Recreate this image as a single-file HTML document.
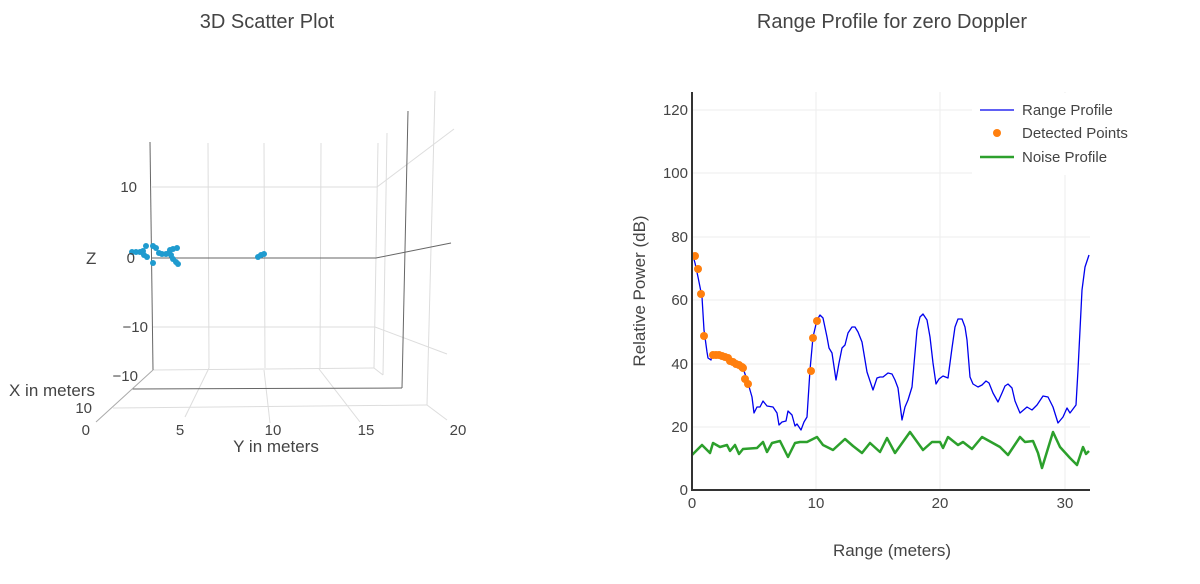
<!DOCTYPE html>
<html><head><meta charset="utf-8"><style>
body{margin:0;background:#fff;}
svg{display:block;font-family:"Liberation Sans",sans-serif;}
</style></head><body>
<svg width="1200" height="584" viewBox="0 0 1200 584">
<rect width="1200" height="584" fill="#fff"/>
<text x="267" y="28" font-size="20" fill="#444" text-anchor="middle">3D Scatter Plot</text>
<text x="892" y="28" font-size="20" fill="#444" text-anchor="middle">Range Profile for zero Doppler</text>

<!-- 3D scene -->
<g stroke="#ddd" stroke-width="1" fill="none">
<line x1="208" y1="143" x2="209" y2="368"/><line x1="264" y1="143" x2="265" y2="368"/>
<line x1="321" y1="143" x2="320" y2="368"/><line x1="378" y1="143" x2="374" y2="368"/>
<line x1="387" y1="133" x2="383" y2="375"/><line x1="435" y1="91" x2="427" y2="405"/>
<line x1="152" y1="187" x2="377" y2="187"/><line x1="377" y1="187" x2="454" y2="129"/>
<line x1="152" y1="327" x2="375" y2="327"/><line x1="375" y1="327" x2="447" y2="354"/>
<line x1="113" y1="408" x2="427" y2="405"/>
<line x1="209" y1="368" x2="185" y2="417"/><line x1="264" y1="370" x2="270" y2="423"/>
<line x1="319" y1="369" x2="360" y2="422"/><line x1="374" y1="368" x2="383" y2="375"/>
<line x1="427" y1="405" x2="447" y2="420"/><line x1="153" y1="370" x2="374" y2="368"/>
</g>
<g stroke="#666" stroke-width="1" fill="none">
<line x1="150" y1="142" x2="153" y2="370"/><line x1="408" y1="111" x2="402" y2="388"/>
<line x1="152" y1="258" x2="376" y2="258"/><line x1="376" y1="258" x2="451" y2="243"/>
<line x1="132" y1="389" x2="402" y2="388"/>
</g>
<line x1="153" y1="370" x2="96" y2="422" stroke="#aaa"/>
<g fill="#1f9bcf">
<circle cx="132" cy="252" r="3"/><circle cx="136" cy="252" r="3"/><circle cx="140" cy="252" r="3"/>
<circle cx="143" cy="251" r="3"/><circle cx="146" cy="246" r="3"/><circle cx="144" cy="255" r="3"/>
<circle cx="147" cy="257" r="3"/><circle cx="153" cy="246" r="3"/><circle cx="156" cy="248" r="3"/>
<circle cx="159" cy="253" r="3"/><circle cx="153" cy="263" r="3"/><circle cx="162" cy="254" r="3"/>
<circle cx="166" cy="254" r="3"/><circle cx="170" cy="250" r="3"/><circle cx="173" cy="249" r="3"/>
<circle cx="177" cy="248" r="3"/><circle cx="171" cy="255" r="3"/><circle cx="173" cy="259" r="3"/>
<circle cx="176" cy="262" r="3"/><circle cx="178" cy="264" r="3"/><circle cx="169" cy="253" r="3"/>
<circle cx="258" cy="257" r="3"/><circle cx="261" cy="255" r="3"/><circle cx="264" cy="254" r="3"/>
</g>
<g font-size="15" fill="#444">
<text x="137" y="192" text-anchor="end">10</text>
<text x="135" y="263" text-anchor="end">0</text>
<text x="148" y="332" text-anchor="end">−10</text>
<text x="138" y="381" text-anchor="end">−10</text>
<text x="92" y="413" text-anchor="end">10</text>
<text x="90" y="435" text-anchor="end">0</text>
<text x="180" y="435" text-anchor="middle">5</text>
<text x="273" y="435" text-anchor="middle">10</text>
<text x="366" y="435" text-anchor="middle">15</text>
<text x="458" y="435" text-anchor="middle">20</text>
</g>
<text x="86" y="264" font-size="17" fill="#444">Z</text>
<text x="9" y="396" font-size="17" fill="#444">X in meters</text>
<text x="276" y="452" font-size="17" fill="#444" text-anchor="middle">Y in meters</text>

<!-- 2D plot -->
<g stroke="#eee" stroke-width="1">
<line x1="692" y1="427" x2="1090" y2="427"/><line x1="692" y1="364" x2="1090" y2="364"/>
<line x1="692" y1="300" x2="1090" y2="300"/><line x1="692" y1="237" x2="1090" y2="237"/>
<line x1="692" y1="173" x2="1090" y2="173"/><line x1="692" y1="110" x2="1090" y2="110"/>
<line x1="816" y1="92" x2="816" y2="490"/><line x1="940" y1="92" x2="940" y2="490"/>
<line x1="1065" y1="92" x2="1065" y2="490"/>
</g>
<g font-size="15" fill="#444" text-anchor="end">
<text x="688" y="495">0</text><text x="688" y="432">20</text><text x="688" y="369">40</text>
<text x="688" y="305">60</text><text x="688" y="242">80</text><text x="688" y="178">100</text>
<text x="688" y="115">120</text>
</g>
<g font-size="15" fill="#444" text-anchor="middle">
<text x="692" y="508">0</text><text x="816" y="508">10</text><text x="940" y="508">20</text><text x="1065" y="508">30</text>
</g>
<text x="892" y="556" font-size="17" fill="#444" text-anchor="middle">Range (meters)</text>
<text transform="translate(645,291) rotate(-90)" font-size="17" fill="#444" text-anchor="middle">Relative Power (dB)</text>

<polyline fill="none" stroke="#2ca02c" stroke-width="2.5" stroke-linejoin="round" points="692,455 702,445 710,453 713,443 720,447 727,445 730,451 735,445 739,454 743,449 757,448 763,442 767,452 772,443 780,441 788,457 795,443 800,442 807,442 817,437 823,445 833,450 845,439 853,446 862,453 870,443 880,452 887,438 895,453 905,439 910,432 923,450 932,442 940,442 943,448 948,437 958,445 963,442 972,449 982,437 1000,447 1008,455 1020,437 1025,442 1033,441 1038,453 1042,468 1053,432 1060,447 1070,458 1077,465 1083,447 1086,454 1089,451"/>
<polyline fill="none" stroke="#0000ee" stroke-width="1.3" stroke-linejoin="round" points="692,252 695,263 698,277 702,297 704,330 707,352 708,358 711,360 712,354 716,355 722,356 728,358 734,361 740,365 743,368 748,383 752,397 754,413 757,407 760,407 763,401 767,406 773,407 777,413 779,425 782,422 786,421 788,411 792,415 795,426 797,424 801,430 804,422 807,417 810,370 813,337 817,320 820,315 823,318 827,337 829,348 832,353 836,380 839,363 842,348 845,345 848,333 852,327 855,327 858,332 862,342 867,372 873,390 877,378 880,377 883,377 888,373 892,374 895,380 898,388 902,420 905,407 908,400 912,387 917,330 920,317 923,314 927,320 930,337 933,363 936,384 939,379 943,376 948,378 952,348 955,327 958,319 962,319 965,327 967,340 970,377 973,384 978,387 982,385 986,381 989,383 993,393 998,402 1002,393 1005,386 1008,384 1012,388 1015,401 1020,413 1027,407 1032,410 1037,405 1043,396 1048,397 1053,407 1058,423 1063,417 1067,408 1070,413 1076,405 1078,370 1082,290 1085,267 1089,255"/>
<g fill="#ff7f0e">
<circle cx="695" cy="256" r="4"/><circle cx="698" cy="269" r="4"/><circle cx="701" cy="294" r="4"/><circle cx="704" cy="336" r="4"/>
<circle cx="713" cy="355" r="4"/><circle cx="716" cy="355" r="4"/><circle cx="719" cy="355" r="4"/><circle cx="722" cy="356" r="4"/>
<circle cx="725" cy="357" r="4"/><circle cx="728" cy="358" r="4"/><circle cx="730" cy="361" r="4"/><circle cx="733" cy="362" r="4"/>
<circle cx="736" cy="364" r="4"/><circle cx="739" cy="365" r="4"/><circle cx="742" cy="367" r="4"/><circle cx="743" cy="368" r="4"/>
<circle cx="745" cy="379" r="4"/><circle cx="748" cy="384" r="4"/>
<circle cx="811" cy="371" r="4"/><circle cx="813" cy="338" r="4"/><circle cx="817" cy="321" r="4"/>
</g>
<line x1="692" y1="92" x2="692" y2="491" stroke="#333" stroke-width="2"/>
<line x1="691" y1="490" x2="1090" y2="490" stroke="#333" stroke-width="2"/>

<rect x="972" y="93" width="178" height="82" fill="#fff"/>
<line x1="980" y1="110" x2="1014" y2="110" stroke="#0000ee" stroke-width="1.3"/>
<circle cx="997" cy="133" r="4" fill="#ff7f0e"/>
<line x1="980" y1="157" x2="1014" y2="157" stroke="#2ca02c" stroke-width="2.5"/>
<g font-size="15" fill="#444">
<text x="1022" y="115">Range Profile</text>
<text x="1022" y="138">Detected Points</text>
<text x="1022" y="162">Noise Profile</text>
</g>
</svg>
</body></html>
